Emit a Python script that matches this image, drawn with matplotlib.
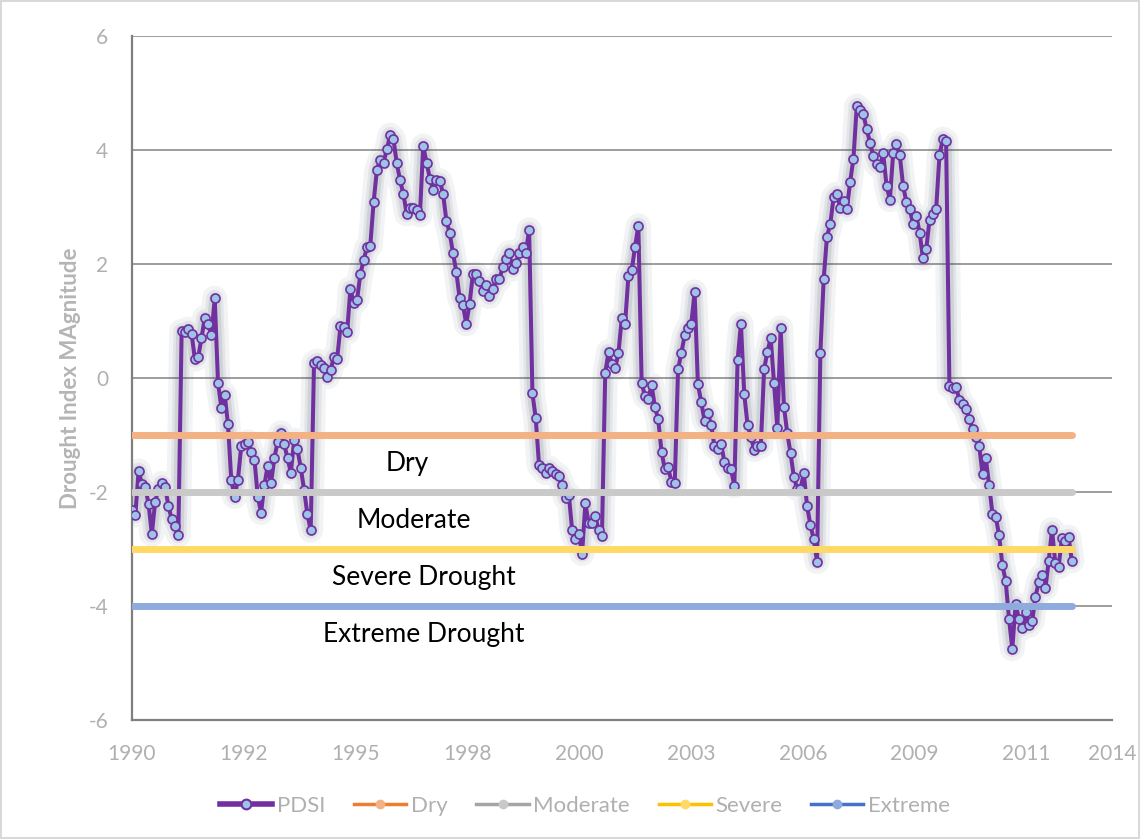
import matplotlib
matplotlib.use("Agg")
import matplotlib.pyplot as plt
import matplotlib.transforms as mtransforms
from matplotlib.lines import Line2D
import numpy as np

# ---------------- data ----------------
pdsi = [
    -2.32, -2.40, -1.63, -1.86, -1.91, -2.21, -2.74, -2.17, -1.95, -1.85, -1.92, -2.24, -2.48, -2.59, -2.75,
    0.82, 0.81, 0.86, 0.78, 0.33, 0.36, 0.70, 1.06, 0.94, 0.75, 1.40, -0.09, -0.52, -0.29, -0.81, -1.79, -2.08, -1.79,
    -1.20, -1.15, -1.12, -1.29, -1.43, -2.08, -2.36, -1.88, -1.54, -1.85, -1.41, -1.12, -0.96, -1.16, -1.41, -1.66,
    -1.09, -1.25, -1.58, -1.96, -2.39, -2.67, 0.26, 0.30, 0.23, 0.17, 0.02, 0.14, 0.37, 0.34, 0.91, 0.90, 0.80,
    1.57, 1.31, 1.37, 1.82, 2.07,
    2.29, 2.32, 3.08, 3.65, 3.83, 3.78, 4.01, 4.26, 4.19, 3.77, 3.47, 3.23, 2.88, 2.99, 2.99, 2.95, 2.86, 4.07,
    3.78, 3.50, 3.30, 3.47, 3.46, 3.23, 2.76, 2.54, 2.19, 1.86, 1.40, 1.28, 0.95, 1.30,
    1.82, 1.82, 1.71, 1.53, 1.63, 1.43, 1.57, 1.73, 1.73, 1.94, 2.08, 2.20, 1.91, 2.02, 2.20, 2.29, 2.20, 2.60,
    -0.27, -0.71, -1.53, -1.58, -1.66, -1.58, -1.64, -1.68, -1.72, -1.88, -2.10, -2.05, -2.67, -2.83, -2.73, -3.08,
    -2.20, -2.55, -2.55, -2.42, -2.67, -2.78, 0.09, 0.46, 0.25, 0.17, 0.44, 1.05, 0.95, 1.79, 1.89, 2.30, 2.67,
    -0.08, -0.32, -0.37, -0.12, -0.51, -0.72, -1.29, -1.60, -1.57, -1.82, -1.85, 0.15, 0.44, 0.75, 0.87, 0.95,
    1.51, -0.11,
    -0.42, -0.75, -0.62, -0.82, -1.20, -1.25, -1.15, -1.47, -1.58, -1.60, -1.89, 0.32, 0.95, -0.28, -0.82, -1.03,
    -1.26, -1.20, -1.20, 0.15, 0.46, 0.70, -0.08, -0.88, 0.88, -0.50, -0.97, -1.32, -1.74, -1.94, -1.94, -1.67,
    -2.25, -2.58, -2.83, -3.22, 0.43,
    1.73, 2.48, 2.70, 3.17, 3.23, 2.99, 3.11, 2.96, 3.44, 3.85, 4.77, 4.71, 4.63, 4.36, 4.13, 3.89, 3.75, 3.70,
    3.94, 3.37, 3.13, 3.94, 4.11, 3.91, 3.37, 3.09, 2.96, 2.71, 2.84, 2.55, 2.10, 2.26, 2.78, 2.88, 2.97, 3.91,
    4.19, 4.15,
    -0.14, -0.17, -0.16, -0.38, -0.46, -0.54, -0.72, -0.89, -1.03, -1.19, -1.69, -1.41, -1.88, -2.38, -2.44,
    -2.75, -3.28, -3.56, -4.22, -4.75, -3.97, -4.22, -4.39, -4.11, -4.34, -4.27, -3.84, -3.58, -3.46, -3.69,
    -3.21, -2.66, -3.25, -3.31, -2.81, -2.86, -2.79, -3.21,
]

# time span of the record, in days since 1990-01-01
record_end_day = 8407
axis_end_day = 8766

threshold_names = ["Dry", "Moderate", "Severe", "Extreme"]
threshold_values = [-1, -2, -3, -4]
zone_labels = ["Dry", "Moderate", "Severe Drought", "Extreme Drought"]

x_tick_days = [0, 1000, 2000, 3000, 4000, 5000, 6000, 7000, 8000, 8766]
x_tick_labels = ["1990", "1992", "1995", "1998", "2000", "2003", "2006", "2009", "2011", "2014"]
y_ticks = [-6, -4, -2, 0, 2, 4, 6]

# ---------------- styles ----------------
plt.rcParams["font.family"] = ["Lato", "DejaVu Sans"]
plt.rcParams["axes.unicode_minus"] = False
PURPLE = "#7030A0"
MARKER_BLUE = "#9DC3E6"
band_colors = ["#F4B183", "#C9C9C9", "#FFD966", "#8FAADC"]
legend_line_colors = ["#ED7D31", "#A5A5A5", "#FFC000", "#4472C4"]
TICK_COLOR = "#b0b0b0"

W, H = 1140, 839
fig = plt.figure(figsize=(W / 100, H / 100), dpi=100)
fig.patch.set_facecolor("white")
fig.patch.set_edgecolor("#d9d9d9")
fig.patch.set_linewidth(1.5)

ax = fig.add_axes([132 / W, 1 - 720 / H, 980 / W, 684 / H])
ax.set_xlim(0, axis_end_day)
ax.set_ylim(-6, 6)

x = np.linspace(0, record_end_day, len(pdsi))

# gridlines & spines
ax.set_yticks(y_ticks)
ax.yaxis.grid(True, color="#8c8c8c", lw=1.2)
ax.set_axisbelow(True)
for s in ["top", "right"]:
    ax.spines[s].set_visible(False)
for s in ["left", "bottom"]:
    ax.spines[s].set_color("#7f7f7f")
    ax.spines[s].set_linewidth(1.6)

ax.set_xticks(x_tick_days)
ax.set_xticklabels(x_tick_labels)
ax.tick_params(axis="both", length=0, labelsize=15, labelcolor=TICK_COLOR)
ax.tick_params(axis="y", pad=17)
ax.tick_params(axis="x", pad=17)

# soft shadow under the PDSI line
for lw, a in [(18, 0.06), (12, 0.08), (8, 0.11)]:
    ax.plot(x, pdsi, color="#2c3e50", lw=lw, alpha=a, solid_joinstyle="round",
            solid_capstyle="round", zorder=2)

ax.plot(x, pdsi, color=PURPLE, lw=2.9, marker="o", ms=6.5, mfc=MARKER_BLUE,
        mec=PURPLE, mew=1.2, zorder=3, solid_joinstyle="round")

# threshold lines
for val, col in zip(threshold_values, band_colors):
    ax.plot([x[0], x[-1]], [val, val], color=col, lw=5.0, solid_capstyle="round", zorder=4)

# zone labels
trans = mtransforms.blended_transform_factory(ax.transAxes, ax.transData)
label_x = [0.281, 0.288, 0.2975, 0.2975]
for lab, lx, val in zip(zone_labels, label_x, threshold_values):
    ax.text(lx, val - 0.5, lab, transform=trans, ha="center", va="center",
            fontsize=19, color="black", zorder=5)

ax.set_ylabel("Drought Index MAgnitude", fontsize=16, fontweight="bold", color="#b5b5b5")
ax.yaxis.set_label_coords(-0.052, 0.5)

# legend
handles = [Line2D([], [], color=PURPLE, lw=4, marker="o", ms=7, mfc=MARKER_BLUE,
                  mec=PURPLE, mew=1.5)]
for lc, mc in zip(legend_line_colors, band_colors):
    handles.append(Line2D([], [], color=lc, lw=2.5, marker="o", ms=6, mfc=mc, mec=mc))
labels = ["PDSI"] + threshold_names
fig.legend(handles, labels, loc="center", bbox_to_anchor=(585 / W, 1 - 806 / H), ncol=5,
           frameon=False, fontsize=16, labelcolor=TICK_COLOR, handlelength=2.35,
           handletextpad=0.2, columnspacing=1.3)

fig.savefig("out.png", dpi=100, facecolor=fig.get_facecolor(), edgecolor=fig.get_edgecolor())
